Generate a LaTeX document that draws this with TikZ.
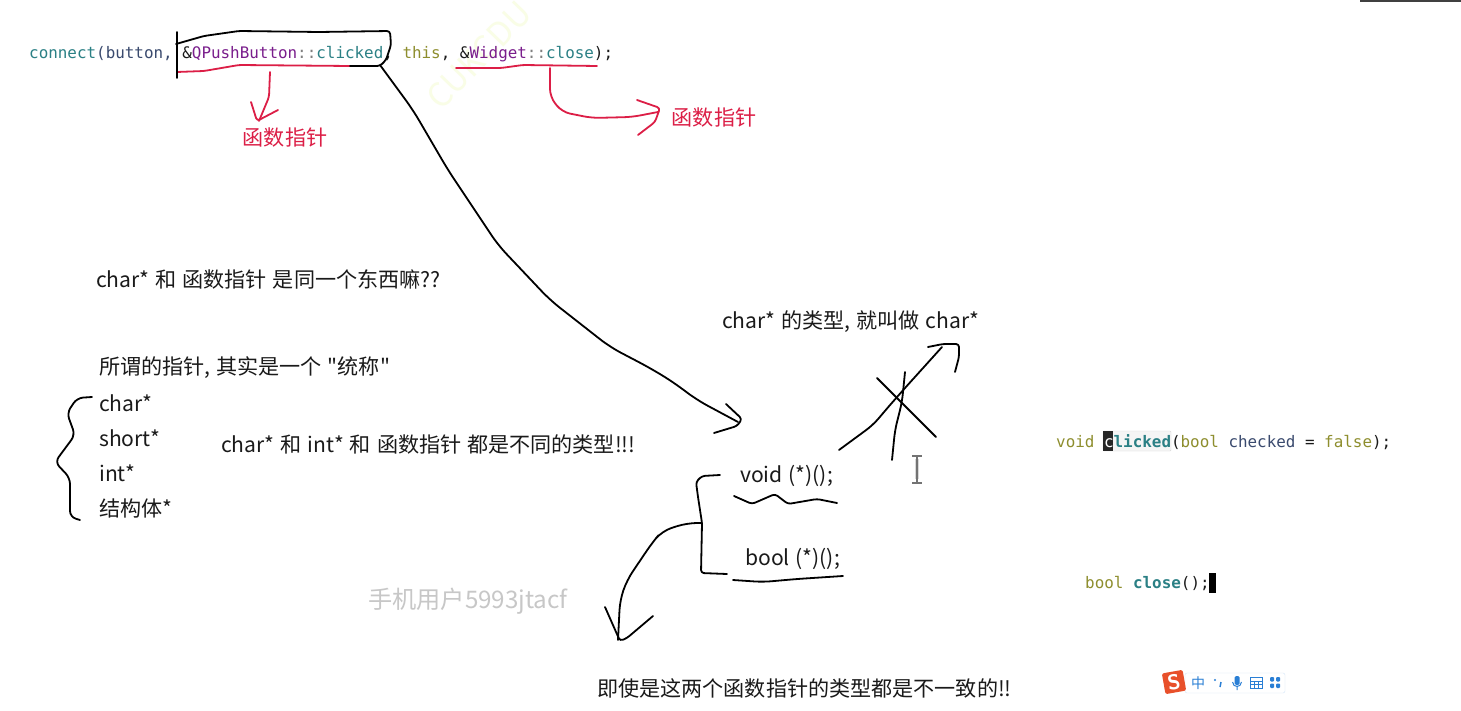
\documentclass[tikz,border=0pt]{standalone}
\usepackage{fontspec}
\usetikzlibrary{calc}
\setmainfont{Noto Sans CJK SC}
\newfontfamily\cjkf[WordSpace=1.25]{Noto Sans CJK SC}
\newfontfamily\codef{DejaVu Sans Mono}
\definecolor{cteal}{HTML}{2B8085}
\definecolor{cnavy}{HTML}{3A4A6E}
\definecolor{cpurp}{HTML}{7A1E8C}
\definecolor{colive}{HTML}{8E8E2E}
\definecolor{cred}{HTML}{DC1E46}
\definecolor{cink}{HTML}{1A1A1A}
\definecolor{cblue}{HTML}{2A7FD5}
\definecolor{cwm}{HTML}{F9FDE6}
\definecolor{cime}{HTML}{E8502A}
\tikzset{
  x=1pt,y=-1pt,
  ink/.style={draw=black,line width=1.8pt,line cap=round,line join=round,rounded corners=3pt},
  redink/.style={draw=cred,line width=1.8pt,line cap=round,line join=round,rounded corners=3pt},
  note/.style={anchor=west,inner sep=0pt,text=cink,font=\cjkf\fontsize{21.1}{21}\selectfont},
  redlab/.style={inner sep=0pt,text=cred,font=\cjkf\fontsize{21.1}{21}\selectfont},
  code/.style={anchor=west,inner sep=0pt,font=\codef\fontsize{15.9}{16}\selectfont},
}
\newcommand{\kw}[2]{\textcolor{#1}{#2}}
\begin{document}
\begin{tikzpicture}
\useasboundingbox (0,0) rectangle (1461,711);
\fill[white] (0,0) rectangle (1461,711);
% top-right sliver
\fill[black!75] (1360,0) rectangle (1461,2);
% faint watermark
\node[rotate=46,inner sep=0pt,text=cwm,font=\fontsize{33}{33}\selectfont] (wm) at (479,55) {CUKCDU};
% code
\node[code] (c1) at (29,54) {\kw{cteal}{connect}\kw{cnavy}{(button,} \kw{cink}{\&}\kw{cpurp}{QPushButton}\kw{gray}{::}\kw{cteal}{clicked}\kw{cink}{,} \kw{colive}{this}\kw{cink}{,} \kw{cink}{\&}\kw{cpurp}{Widget}\kw{gray}{::}\kw{cteal}{close}\kw{cink}{);}};
\fill[black!4,draw=black!15,rounded corners=1pt] (1103,431) rectangle (1171,451);
\fill[black!85] (1103,431) rectangle (1113,451);
\node[code] (c2) at (1056,442) {\kw{colive}{void} \kw{white}{c}\kw{cteal}{\textbf{licked}}\kw{cink}{(}\kw{colive}{bool} \kw{cnavy}{checked} \kw{cink}{=} \kw{colive}{false}\kw{cink}{);}};
\node[code] (c3) at (1085,584) {\kw{colive}{bool} \kw{cteal}{\textbf{close}}\kw{cink}{();}};
\fill[black] (1209,573) rectangle (1216,593);
% notes
\node[note] (n1) at (96,279) {char* 和 函数指针 是同一个东西嘛??};
\node[note] (n2) at (99,368) {所谓的指针, 其实是一个 "统称"};
\node[note] (n3) at (99,403) {char*};
\node[note] (n4) at (99,438) {short*};
\node[note] (n5) at (99,473) {int*};
\node[note] (n6) at (99,508) {结构体*};
\node[note] (n7) at (221,444) {char* 和 int* 和 函数指针 都是不同的类型!!!};
\node[note] (n8) at (722,322) {char* 的类型, 就叫做 char*};
\node[note] (n9) at (740,476) {void (*)();};
\node[note] (n10) at (745,559) {bool (*)();};
\node[note] (n11) at (597,688) {即使是这两个函数指针的类型都是不一致的!!};
\node[note,text=black!22,font=\cjkf\fontsize{24.2}{24}\selectfont] (n12) at (368,601) {手机用户5993jtacf};
\node[redlab] (r1) at (285,138) {函数指针};
\node[redlab] (r2) at (714,118) {函数指针};
% red strokes
\draw[redink] (177,72) -- (204,71) -- (239,65) -- (350,66);
\draw[redink] (270,72) -- (269,97) -- (259,121);
\draw[redink] (251,102) -- (257,121) -- (278,110);
\draw[redink] (456,68) -- (501,68) -- (523,65) -- (597,66);
\draw[redink,rounded corners=8pt] (550,68) -- (550,97) -- (562,112) -- (592,118) -- (632,117) -- (658,112);
\draw[redink] (637,100) -- (660,108) -- (655,122) -- (638,135);
% black strokes
\draw[ink] (177,32) -- (177,78);
\draw[ink] (176,44) -- (204,36) -- (239,31) -- (319,32) -- (390,31) -- (391,45) -- (386,60) -- (380,66) -- (350,66);
\draw[ink,rounded corners=12pt] (380,65) -- (413,110) -- (448,170) -- (498,245) -- (550,300) -- (610,347) -- (650,368) -- (673,382) -- (697,400) -- (738,422);
\draw[ink] (726,404) -- (742,419) -- (737,426) -- (714,433);
\draw[ink,rounded corners=8pt] (839,450) -- (873,425) -- (890,405) -- (905,388) -- (942,347);
\draw[ink] (928,347) -- (943,344) -- (959,344) -- (959,357) -- (955,372);
\draw[ink] (877,378) -- (936,437);
\draw[ink,rounded corners=8pt] (905,372) -- (902,402) -- (895,430) -- (892,460);
\draw[ink] (734,496) -- (752,504) -- (775,494) -- (788,504) -- (817,499) -- (837,503);
\draw[ink,rounded corners=8pt] (733,580) -- (763,582) -- (797,579) -- (843,576);
\draw[ink] (720,475) -- (702,476) -- (696,482) -- (698,497) -- (702,523) -- (701,573) -- (727,574);
\draw[ink,rounded corners=10pt] (702,523) -- (687,523) -- (662,531) -- (652,543) -- (627,580) -- (620,600) -- (618,640);
\draw[ink] (605,607) -- (620,641) -- (627,638) -- (653,616);
\draw[ink,rounded corners=6pt] (92,397) -- (77,398) -- (67,413) -- (75,435) -- (55,462) -- (70,478) -- (70,500) -- (70,517) -- (80,520);
% I-beam cursor
\draw[black!15,line width=4pt] (917,459) -- (917,479);
\draw[black!55,line width=1.6pt] (912,456) -- (922,456) (917,456) -- (917,483) (912,483) -- (922,483);
% IME bar
\fill[white,draw=cblue!20,rounded corners=2pt] (1185,673) rectangle (1285,693);
\node[rotate=10,fill=cime,rounded corners=2pt,minimum size=21pt,inner sep=0pt,text=white,font=\sffamily\bfseries\fontsize{21}{21}\selectfont] (ime) at (1174,682) {S};
\node[inner sep=0pt,text=cblue,font=\cjkf\fontsize{14}{14}\selectfont] (ime1) at (1198,683) {中};
\fill[cblue] (1215,680) circle (1.2pt);
\draw[cblue,line width=1.5pt] (1221,682) -- (1220,687);
\fill[cblue,rounded corners=1.5pt] (1234.5,676) rectangle (1239.5,685);
\draw[cblue,line width=1pt] (1232.5,682) .. controls (1233,688) and (1241,688) .. (1241.5,682) (1237,687) -- (1237,690);
\draw[cblue,line width=1pt] (1250,677) rectangle (1262,688);
\draw[cblue,line width=.6pt] (1250,681) -- (1262,681) (1250,684.5) -- (1262,684.5) (1254,681) -- (1254,688) (1258,681) -- (1258,688);
\fill[cblue,rounded corners=1pt] (1270,677) rectangle (1274,681.5) (1276,677) rectangle (1280,681.5) (1270,683.5) rectangle (1274,688) (1276,683.5) rectangle (1280,688);
\end{tikzpicture}
\end{document}
